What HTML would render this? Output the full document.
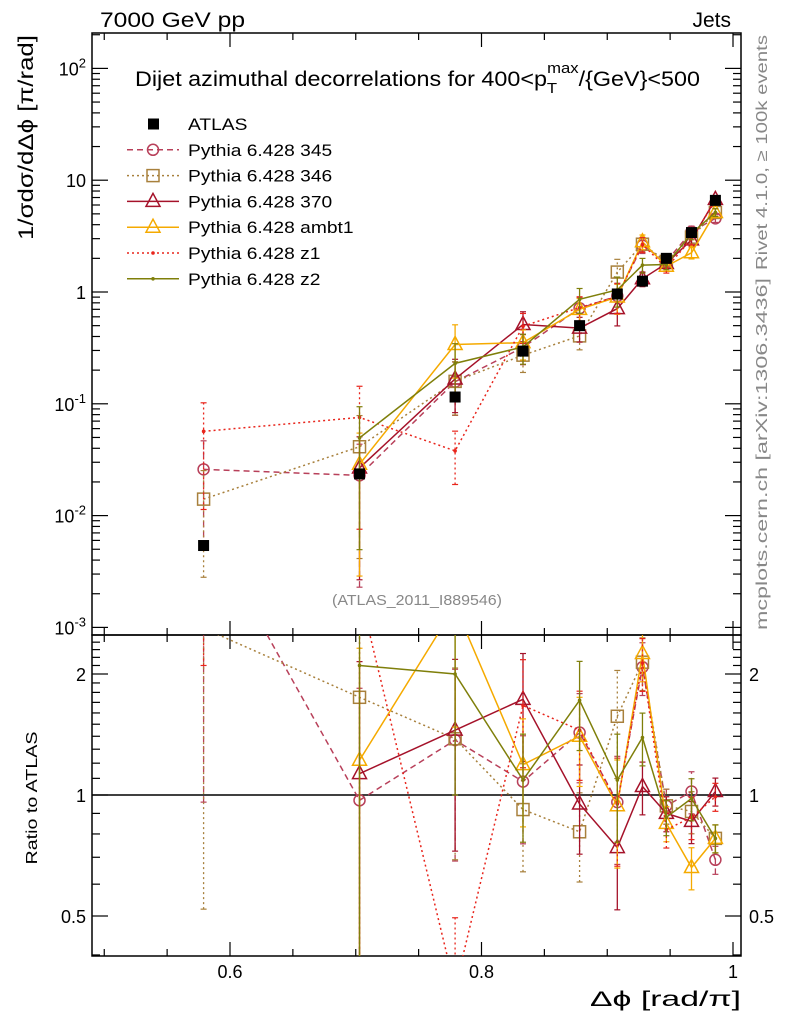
<!DOCTYPE html>
<html><head><meta charset="utf-8"><style>
html,body{margin:0;padding:0;background:#fff;width:786px;height:1024px;overflow:hidden;position:relative}
svg{display:block;font-family:"Liberation Sans",sans-serif;position:absolute;left:0;top:0}
</style></head><body>
<svg id="c" width="786" height="1024" viewBox="0 0 786 1024" xmlns="http://www.w3.org/2000/svg">
<defs>
<clipPath id="cm"><rect x="92" y="33" width="649" height="602"/></clipPath>
<clipPath id="cr"><rect x="92" y="635" width="649" height="321"/></clipPath>
</defs>
<g id="g"></g>
</svg>
<script>
const xs = [0.579, 0.703, 0.779, 0.833, 0.878, 0.908, 0.928, 0.947, 0.967, 0.986];
const atlas = [0.0054, 0.0236, 0.115, 0.296, 0.50, 0.96, 1.25, 2.0, 3.4, 6.6];
const errFrac = [0.8, 0.9, 0.5, 0.3, 0.25, 0.3, 0.15, 0.1, 0.12, 0.08];
const r345 = [4.8, 0.97, 1.37, 1.08, 1.43, 0.96, 2.08, 0.94, 1.02, 0.69];
const r346 = [2.6, 1.75, 1.38, 0.92, 0.81, 1.57, 2.14, 0.94, 0.91, 0.78];
const r370 = [null, 1.13, 1.45, 1.73, 0.95, 0.74, 1.05, 0.90, 0.86, 1.02];
const rambt1 = [null, 1.22, 2.95, 1.19, 1.40, 0.94, 2.25, 0.85, 0.66, 0.78];
const rz1 = [10.5, 3.2, 0.33, 1.67, 1.45, 0.95, 2.13, 0.82, 0.88, 0.99];
const rz2 = [null, 2.1, 2.0, 1.09, 1.72, 1.09, 1.39, 0.88, 0.98, 0.78];
const mainTicks = ["10^-3","10^-2","10^-1","1","10","10^2"];
const ratioTicks = [0.5, 1, 2];
const xTicks = [0.6, 0.8, 1];

const NS="http://www.w3.org/2000/svg";
const G=document.getElementById('g');
function el(t,a,p){const e=document.createElementNS(NS,t);for(const k in a)e.setAttribute(k,a[k]);(p||G).appendChild(e);return e;}
const X=v=>230+(v-0.6)*1257.5;
const YM=v=>292-Math.log10(v)*111.8;
const YR=v=>795-Math.log2(v)*121;

const series=[
 {name:"Pythia 6.428 345",r:r345,c:"#b8405a",dash:"6,4",m:"circle"},
 {name:"Pythia 6.428 346",r:r346,c:"#a8803c",dash:"2,3",m:"square"},
 {name:"Pythia 6.428 370",r:r370,c:"#a5122a",dash:"",m:"tri"},
 {name:"Pythia 6.428 ambt1",r:rambt1,c:"#f5aa00",dash:"",m:"tri"},
 {name:"Pythia 6.428 z1",r:rz1,c:"#e8251c",dash:"2,3",m:"dot"},
 {name:"Pythia 6.428 z2",r:rz2,c:"#7f7f0a",dash:"",m:"dot"}
];
function marker(m,x,y,c,p){
 if(m==="circle")return el('circle',{cx:x,cy:y,r:5.5,fill:'none',stroke:c,'stroke-width':1.5},p);
 if(m==="square")return el('rect',{x:x-6,y:y-6,width:12,height:12,fill:'none',stroke:c,'stroke-width':1.5},p);
 if(m==="tri")return el('polygon',{points:`${x},${y-8} ${x-7},${y+5} ${x+7},${y+5}`,fill:'none',stroke:c,'stroke-width':1.5},p);
 return el('circle',{cx:x,cy:y,r:1.8,fill:c},p);
}
const fm=el('rect',{x:92,y:33,width:649,height:602,fill:'none',stroke:'#000','stroke-width':1.5});

const fr=el('rect',{x:92,y:635,width:649,height:321,fill:'none',stroke:'#000','stroke-width':1.5});

for(let v=0.5;v<=1.0001;v+=0.05){const x=X(v);if(x<92||x>741)continue;const maj=xTicks.some(t=>Math.abs(t-v)<1e-6);const L=maj?14:7;
 for(const [y0,d] of [[635,-1],[635,1],[956,-1],[33,1]]){el('line',{x1:x,y1:y0,x2:x,y2:y0+d*L,stroke:'#000','stroke-width':1.2});}}
xTicks.forEach(v=>{const t=el('text',{x:X(v),y:978,'text-anchor':'middle','font-size':18});t.textContent=String(v);
 });
for(let d=-3;d<=2;d++){for(let k=1;k<10;k++){const v=k*Math.pow(10,d);const y=YM(v);if(y<33||y>635)continue;const L=k===1?16:8;
 el('line',{x1:92,y1:y,x2:92+L,y2:y,stroke:'#000','stroke-width':1.2});el('line',{x1:741,y1:y,x2:741-L,y2:y,stroke:'#000','stroke-width':1.2});}}
mainTicks.forEach((s,i)=>{const y=YM(Math.pow(10,i-3));const t=el('text',{x:86,y:y+7,'text-anchor':'end','font-size':18});
 if(s.includes('^')){const [b,e]=s.split('^');t.textContent=b;const ts=el('tspan',{dy:-8,'font-size':13},t);ts.textContent=e;}else t.textContent=s;
 });
for(let v=0.4;v<=2.5;v+=0.1){const y=YR(v);if(y<635||y>956)continue;const maj=ratioTicks.some(t=>Math.abs(t-v)<1e-6);const L=maj?16:8;
 el('line',{x1:92,y1:y,x2:92+L,y2:y,stroke:'#000','stroke-width':1.2});el('line',{x1:741,y1:y,x2:741-L,y2:y,stroke:'#000','stroke-width':1.2});}
ratioTicks.forEach(v=>{const y=YR(v)+7;const a=el('text',{x:86,y:y,'text-anchor':'end','font-size':18});a.textContent=String(v);
 
 const b=el('text',{x:749,y:y,'font-size':18});b.textContent=String(v);
 });
el('line',{x1:92,y1:YR(1),x2:741,y2:YR(1),stroke:'#000','stroke-width':1.5});
const gm=el('g',{'clip-path':'url(#cm)'});const gr=el('g',{'clip-path':'url(#cr)'});
series.forEach(s=>{
 const sg=el('g',{},gm);
 const rg=el('g',{},gr);
 let pm=[],pr=[];
 s.r.forEach((r,i)=>{if(r==null)return;const v=r*atlas[i];const x=X(xs[i]);const ef=errFrac[i];
  pm.push(x+','+YM(v));pr.push(x+','+YR(r));
  const lo=Math.max(v*(1-ef),1e-5),hi=v*(1+ef);
  el('line',{x1:x,y1:YM(lo),x2:x,y2:YM(hi),stroke:s.c,'stroke-width':1.3,'stroke-dasharray':s.dash},sg);
  const rlo=Math.max(r*(1-ef),0.01),rhi=r*(1+ef);
  el('line',{x1:x,y1:YR(rlo),x2:x,y2:YR(rhi),stroke:s.c,'stroke-width':1.3,'stroke-dasharray':s.dash},rg);
  [[YM(lo),sg],[YM(hi),sg],[YR(rlo),rg],[YR(rhi),rg]].forEach(([y,p])=>el('line',{x1:x-3,y1:y,x2:x+3,y2:y,stroke:s.c,'stroke-width':1.2},p));
 });
 el('polyline',{points:pm.join(' '),fill:'none',stroke:s.c,'stroke-width':1.5,'stroke-dasharray':s.dash},sg);
 el('polyline',{points:pr.join(' '),fill:'none',stroke:s.c,'stroke-width':1.5,'stroke-dasharray':s.dash},rg);
 s.r.forEach((r,i)=>{if(r==null)return;const x=X(xs[i]);marker(s.m,x,YM(r*atlas[i]),s.c,sg);marker(s.m,x,YR(r),s.c,rg);});
});
const ag=el('g',{},gm);
atlas.forEach((v,i)=>{const x=X(xs[i]),y=YM(v);el('line',{x1:x,y1:YM(v*0.9),x2:x,y2:YM(v*1.1),stroke:'#000','stroke-width':1.2},ag);
 el('rect',{x:x-5.5,y:y-5.5,width:11,height:11,fill:'#000'},ag);});
const lg=el('g',{});
const ly0=124,ld=25.8;
const e0=el('g',{},lg);
el('rect',{x:148,y:ly0-5.5,width:11,height:11,fill:'#000'},e0);
let t0=el('text',{x:188,y:ly0+6,'font-size':17},e0);t0.textContent="ATLAS";
t0.setAttribute('textLength',t0.getComputedTextLength()*1.13);t0.setAttribute('lengthAdjust','spacingAndGlyphs');
series.forEach((s,i)=>{const y=ly0+ld*(i+1);const e=el('g',{},lg);
 el('line',{x1:127,y1:y,x2:179,y2:y,stroke:s.c,'stroke-width':1.5,'stroke-dasharray':s.dash},e);marker(s.m,153,y,s.c,e);
 const t=el('text',{x:188,y:y+6,'font-size':17},e);t.textContent=s.name;
 t.setAttribute('textLength',t.getComputedTextLength()*1.13);t.setAttribute('lengthAdjust','spacingAndGlyphs');});
</script>
<svg width="786" height="1024" xmlns="http://www.w3.org/2000/svg" font-family="Liberation Sans, sans-serif">
<text x="100" y="27" font-size="21" textLength="145" lengthAdjust="spacingAndGlyphs">7000 GeV pp</text>
<text x="731" y="27" font-size="21" text-anchor="end">Jets</text>
<text x="135" y="86" font-size="21" textLength="565" lengthAdjust="spacingAndGlyphs">Dijet azimuthal decorrelations for 400&lt;p<tspan dy="7" font-size="15">T</tspan><tspan dy="-20" dx="-9" font-size="15">max</tspan><tspan dy="13">/{GeV}&lt;500</tspan></text>
<text transform="translate(33,35) rotate(-90)" font-size="21" text-anchor="end" textLength="205" lengthAdjust="spacingAndGlyphs">1/σdσ/dΔϕ [π/rad]</text>
<text transform="translate(37,798) rotate(-90)" font-size="16" text-anchor="middle" textLength="133" lengthAdjust="spacingAndGlyphs">Ratio to ATLAS</text>
<text x="741" y="1006" font-size="21" text-anchor="end" textLength="151" lengthAdjust="spacingAndGlyphs">Δϕ [rad/π]</text>
<text transform="translate(767,35) rotate(-90)" font-size="16" fill="#888" text-anchor="end" textLength="235" lengthAdjust="spacingAndGlyphs">Rivet 4.1.0, ≥ 100k events</text>
<text transform="translate(767,630) rotate(-90)" font-size="16" fill="#888" textLength="352" lengthAdjust="spacingAndGlyphs">mcplots.cern.ch [arXiv:1306.3436]</text>
<text x="332" y="605" font-size="15" fill="#888" textLength="170" lengthAdjust="spacingAndGlyphs">(ATLAS_2011_I889546)</text>
</svg>
</body></html>
